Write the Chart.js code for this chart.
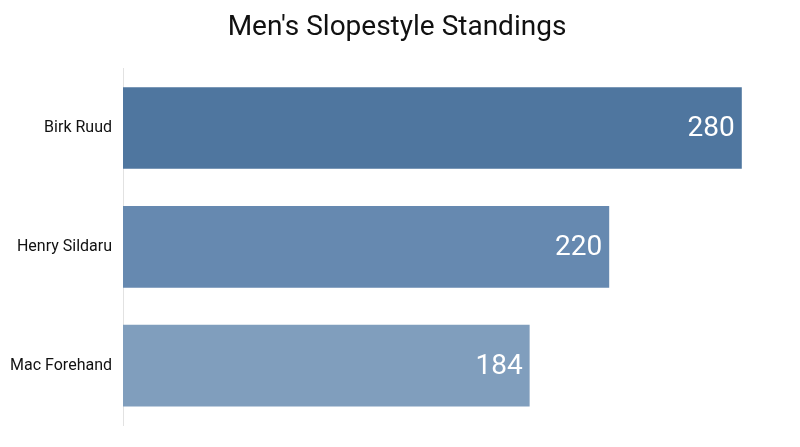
<!DOCTYPE html>
<html>
<head>
<meta charset="utf-8">
<script src="https://cdn.jsdelivr.net/npm/chart.js@4/dist/chart.umd.min.js"></script>
<style>
  html, body { margin: 0; padding: 0; background: #fff; }
  #wrap { width: 800px; height: 447px; }
</style>
</head>
<body>
<div id="wrap"><canvas id="chart"></canvas></div>
<script>
const riders = ['Birk Ruud', 'Henry Sildaru', 'Mac Forehand'];
const points = [280, 220, 184];
const barColors = ['#4f769f', '#6689b0', '#809ebd'];

// draw the value at the right end of each bar
const valueLabels = {
  id: 'valueLabels',
  afterDatasetsDraw(chart) {
    const ctx = chart.ctx;
    const meta = chart.getDatasetMeta(0);
    ctx.save();
    ctx.font = '28px Roboto';
    ctx.fillStyle = '#ffffff';
    ctx.textAlign = 'right';
    ctx.textBaseline = 'middle';
    meta.data.forEach((bar, i) => {
      ctx.fillText(points[i], bar.x - 7, bar.y + 1);
    });
    ctx.restore();
  }
};

new Chart(document.getElementById('chart'), {
  type: 'bar',
  data: {
    labels: riders,
    datasets: [{
      data: points,
      backgroundColor: barColors,
      borderWidth: 0,
      barPercentage: 0.86,
      categoryPercentage: 0.8
    }]
  },
  options: {
    indexAxis: 'y',
    responsive: true,
    maintainAspectRatio: false,
    animation: false,
    layout: { padding: { left: 8, right: 14, top: 0, bottom: 22 } },
    plugins: {
      legend: { display: false },
      tooltip: { enabled: false },
      title: {
        display: true,
        text: "Men's Slopestyle Standings",
        color: '#111',
        font: { family: 'Roboto', size: 28, weight: 'normal' },
        padding: { top: 11, bottom: 24 }
      }
    },
    scales: {
      x: {
        display: false,
        min: 0,
        max: 300
      },
      y: {
        afterFit(scale) { scale.width = 115; },
        grid: { display: false, drawTicks: false },
        border: { display: true, color: '#e2e2e2', width: 1 },
        ticks: {
          color: '#111',
          padding: 11,
          font: { family: 'Roboto', size: 16 }
        }
      }
    }
  },
  plugins: [valueLabels]
});
</script>
</body>
</html>
